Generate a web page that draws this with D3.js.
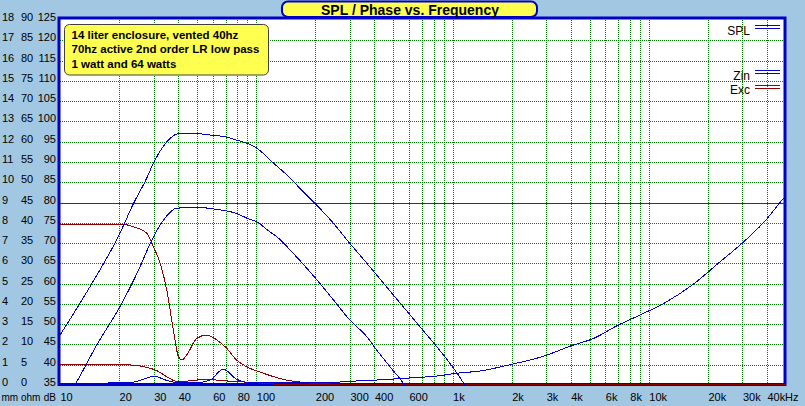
<!DOCTYPE html>
<html>
<head>
<meta charset="utf-8">
<script src="https://cdn.jsdelivr.net/npm/d3@7"></script>
<style>
  body { margin: 0; background: #a2c7e2; }
  svg { display: block; font-family: "Liberation Sans", Arial, sans-serif; }
</style>
</head>
<body>
<div id="chart"></div>
<script>
// values
var dbTicks = d3.range(35, 126, 5);          // dB column
var ohmTicks = d3.range(0, 91, 5);           // ohm column
var mmTicks = d3.range(0, 19, 1);            // mm column
var freqLabels = [10, 20, 30, 40, 60, 80, 100, 200, 300, 400, 600, 1000, 2000, 3000, 4000, 6000, 8000, 10000, 20000, 30000, 40000];
var freqGrid = [20, 30, 40, 50, 60, 70, 80, 90, 100, 200, 300, 400, 500, 600, 700, 800, 900,
                1000, 2000, 3000, 4000, 5000, 6000, 7000, 8000, 9000, 10000, 20000, 30000, 40000];
var noteLines = ["14 liter enclosure, vented 40hz", "70hz active 2nd order LR low pass", "1 watt and 64 watts"];
var xmaxMm = 9;

// SPL 64 watts [Hz, dB]
var spl64 = [[10, 47.3], [14.2, 59.2], [20.2, 72.4], [23.7, 79.8], [27.1, 85.1], [30.5, 90.5], [35.7, 95.4],
  [40.9, 97.1], [46.9, 97.1], [59.1, 96.6], [69.3, 96.2], [79.3, 95.4], [91, 94.5], [102, 93.2], [118, 90.4],
  [146, 86.4], [170, 83.1], [199, 79.8], [247, 74.9], [300, 69.9], [366, 65], [445, 60.1], [543, 55.1],
  [660, 50.2], [803, 45.3], [972, 40.3], [1140, 35.4], [1250, 32]];
// SPL 1 watt [Hz, dB]
var spl1 = [[10, 29.3], [12.1, 35.6], [15.4, 44.9], [20.2, 54.3], [25.6, 64.2], [28.8, 69.9], [33.7, 75.7],
  [39.3, 78.6], [49.8, 78.8], [63, 78.3], [79.4, 77.3], [93, 75.8], [100, 75.3], [117, 72.8], [127, 71.6],
  [154, 67.5], [203, 61], [247, 56], [300, 51], [366, 46.9], [411, 43.6], [480, 39.5], [562, 35.4], [620, 32]];
// impedance [Hz, ohm]
var zin = [[10, 0.15], [16, 0.3], [19, 0.6], [22.7, 0.6], [26.6, 1.4], [30.5, 2.2], [33.7, 1.4], [39.4, 0.6],
  [49.8, 0.6], [58.1, 1.2], [67.9, 3.9], [79.4, 1.4], [93, 0.6], [220, 0.6], [329, 1.0], [442, 1.3],
  [630, 1.8], [830, 2.2], [1050, 2.9], [1380, 3.45], [2000, 5.1], [2960, 7.2], [3980, 9.6], [5240, 11.5],
  [6880, 14.6], [9050, 17.3], [11900, 20.1], [16900, 24.9], [23100, 30.4], [29800, 34.9], [39200, 40.5],
  [48300, 45.9], [50000, 46.7]];
// excursion 64 watts [Hz, mm]
var exc64 = [[10, 7.92], [21, 7.92], [23.7, 7.8], [27.7, 7.48], [29.9, 6.82], [32.4, 6.0], [35, 4.68],
  [37.8, 2.71], [40.1, 1.4], [41.7, 1.23], [44.2, 1.48], [49.8, 2.3], [55.9, 2.46], [63, 2.22], [70.7, 1.81],
  [79.4, 1.23], [89.3, 0.9], [108.6, 0.58], [137, 0.28], [180, 0.11], [237, 0.05], [400, 0.02], [50000, 0]];
// excursion 1 watt [Hz, mm]
var exc1 = [[10, 0.99], [22.7, 0.99], [27.7, 0.87], [31.1, 0.71], [35, 0.41], [40.1, 0.15], [46, 0.21],
  [55.9, 0.28], [68, 0.21], [86, 0.15], [109, 0.08], [150, 0.02], [50000, 0]];

var width = 805, height = 406;
var blue = "#0000d0", red = "#900000", grid = "#008000";

var svg = d3.select("#chart").append("svg")
    .attr("width", width)
    .attr("height", height);

var x = d3.scaleLog().domain([10, 50000]).range([60, 786]);
var yDb = d3.scaleLinear().domain([35, 125]).range([385, 20]);
var yOhm = d3.scaleLinear().domain([0, 90]).range([385, 20]);
var yMm = d3.scaleLinear().domain([0, 18]).range([385, 20]);

var snap = function (v) { return Math.round(v) + 0.5; };

// plot area
svg.append("rect")
    .attr("x", 59).attr("y", 18).attr("width", 726).attr("height", 366.5)
    .attr("fill", "#fff");

// grid
svg.append("g").selectAll("line").data(dbTicks.filter(function (d) { return d > 35 && d < 125; }))
  .enter().append("line")
    .attr("x1", 60).attr("x2", 785)
    .attr("y1", function (d) { return snap(yDb(d)); })
    .attr("y2", function (d) { return snap(yDb(d)); })
    .attr("stroke", grid).attr("stroke-dasharray", "1,1").attr("shape-rendering", "crispEdges");

svg.append("g").selectAll("line").data(freqGrid)
  .enter().append("line")
    .attr("x1", function (d) { return snap(x(d)); })
    .attr("x2", function (d) { return snap(x(d)); })
    .attr("y1", 20).attr("y2", 384)
    .attr("stroke", grid).attr("stroke-dasharray", "1,1").attr("shape-rendering", "crispEdges");

// border
svg.append("rect")
    .attr("x", 59).attr("y", 18).attr("width", 726).attr("height", 366.5)
    .attr("fill", "none").attr("stroke", "#0000c8").attr("stroke-width", 3);

// xmax line
svg.append("line")
    .attr("x1", 60).attr("x2", 785)
    .attr("y1", snap(yMm(xmaxMm))).attr("y2", snap(yMm(xmaxMm)))
    .attr("stroke", "#b00000").attr("shape-rendering", "crispEdges");

svg.append("clipPath").attr("id", "clip")
  .append("rect").attr("x", 60).attr("y", 19).attr("width", 726).attr("height", 367);

var curves = svg.append("g").attr("clip-path", "url(#clip)");

function drawCurve(data, yScale, color) {
  var line = d3.line()
      .x(function (d) { return x(d[0]); })
      .y(function (d) { return yScale(d[1]); })
      .curve(d3.curveMonotoneX);
  curves.append("path")
      .attr("d", line(data))
      .attr("fill", "none")
      .attr("stroke", color)
      .attr("stroke-width", 1)
      .attr("shape-rendering", "crispEdges");
}

drawCurve(exc64, yMm, red);
drawCurve(exc1, yMm, red);
drawCurve(zin, yOhm, blue);
drawCurve(spl64, yDb, blue);
drawCurve(spl1, yDb, blue);

// left labels: mm and ohm left aligned, dB right aligned
var leftLabels = svg.append("g").attr("font-size", 11).attr("fill", "#000");
leftLabels.selectAll(".mm").data(mmTicks).enter().append("text")
    .attr("x", 2).attr("y", function (d) { return yMm(d) + 1; }).text(function (d) { return d; });
leftLabels.selectAll(".ohm").data(ohmTicks).enter().append("text")
    .attr("x", 21).attr("y", function (d) { return yOhm(d) + 1; }).text(function (d) { return d; });
leftLabels.selectAll(".db").data(dbTicks).enter().append("text")
    .attr("x", 56).attr("text-anchor", "end")
    .attr("y", function (d) { return yDb(d) + 1; }).text(function (d) { return d; });

var units = svg.append("g").attr("font-size", 10).attr("fill", "#000");
units.append("text").attr("x", 1.5).attr("y", 401).text("mm");
units.append("text").attr("x", 21).attr("y", 401).text("ohm");
units.append("text").attr("x", 56).attr("y", 401).attr("text-anchor", "end").text("dB");

// frequency labels
svg.append("g").attr("font-size", 11)
  .selectAll("text").data(freqLabels).enter().append("text")
    .attr("x", function (d) { return x(d) + 0.5; })
    .attr("y", 401)
    .text(function (d) { return d >= 1000 ? (d / 1000) + "k" : d; });
svg.append("text").attr("x", 785).attr("y", 401).attr("font-size", 11).text("Hz");

// title
svg.append("rect")
    .attr("x", 282).attr("y", 1.5).attr("width", 255).attr("height", 15.5).attr("rx", 6)
    .attr("fill", "#ffff50").attr("stroke", "#0000c8").attr("stroke-width", 2);
svg.append("text")
    .attr("x", 410).attr("y", 14.5).attr("text-anchor", "middle")
    .attr("font-size", 14).attr("font-weight", "bold")
    .text("SPL / Phase vs. Frequency");

// note box
svg.append("rect")
    .attr("x", 64.5).attr("y", 24.5).attr("width", 204).attr("height", 50.5).attr("rx", 5)
    .attr("fill", "#ffff50").attr("stroke", "#404040");
svg.append("g").attr("font-size", 11.5).attr("font-weight", "bold")
  .selectAll("text").data(noteLines).enter().append("text")
    .attr("x", 71.5)
    .attr("y", function (d, i) { return 38.5 + i * 14.7; })
    .text(function (d) { return d; });

// legend
var legend = [{name: "SPL", y: 35, ly: 25.5, color: blue},
              {name: "Zin", y: 80, ly: 70.5, color: blue},
              {name: "Exc", y: 94, ly: 85.5, color: red}];
var lg = svg.append("g");
legend.forEach(function (l) {
  lg.append("text").attr("x", 750).attr("y", l.y).attr("text-anchor", "end")
      .attr("font-size", 12).text(l.name);
  [0, 3].forEach(function (o) {
    lg.append("line").attr("x1", 755).attr("x2", 780)
        .attr("y1", l.ly + o).attr("y2", l.ly + o)
        .attr("stroke", l.color).attr("shape-rendering", "crispEdges");
  });
});
</script>
</body>
</html>
